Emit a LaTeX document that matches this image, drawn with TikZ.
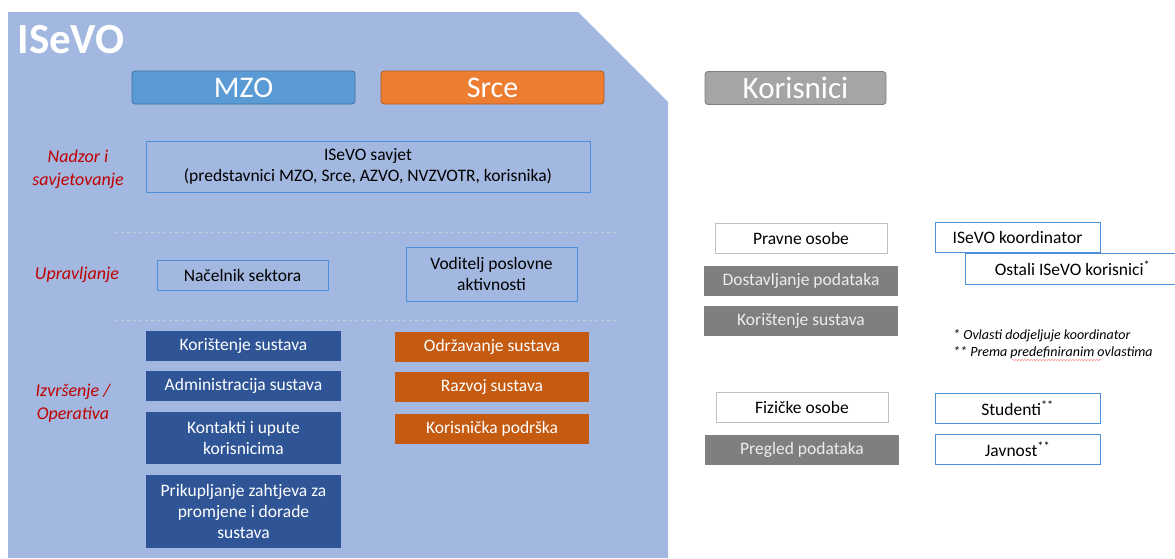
\documentclass[tikz,border=0pt]{standalone}
\usepackage{fontspec}
\setmainfont{Carlito}
\usepackage{tikz}
\usetikzlibrary{positioning, decorations.pathmorphing}
\definecolor{isevobg}{HTML}{A2B8E0}
\definecolor{mzoblue}{HTML}{5B9BD5}
\definecolor{mzoedge}{HTML}{41719C}
\definecolor{srceorange}{HTML}{ED7D31}
\definecolor{srceedge}{HTML}{AE5A21}
\definecolor{korgrey}{HTML}{A5A5A5}
\definecolor{koredge}{HTML}{7F7F7F}
\definecolor{mzodark}{HTML}{2F5597}
\definecolor{srcedark}{HTML}{C55A11}
\definecolor{usergrey}{HTML}{7F7F7F}
\definecolor{greytext}{HTML}{EDEDED}
\definecolor{boxline}{HTML}{4A8FD8}
\definecolor{lightline}{HTML}{BFBFBF}
\definecolor{tierred}{HTML}{C00000}
\definecolor{sepline}{HTML}{C4CCDC}
\tikzstyle{head} = [rectangle, rounded corners=3pt, minimum width=223pt, minimum height=33pt, text=white, line width=0.8pt, font=\fontsize{30}{32}\selectfont]
\tikzstyle{tier} = [text=tierred, align=center, font=\fontsize{18}{23}\selectfont\itshape]
\tikzstyle{linebox} = [rectangle, draw=boxline, line width=0.9pt, align=center, font=\fontsize{17.5}{21}\selectfont]
\tikzstyle{mzobox} = [rectangle, fill=mzodark, text=white, minimum width=195pt, minimum height=30pt, align=center, font=\fontsize{17.5}{21}\selectfont]
\tikzstyle{srcebox} = [rectangle, fill=srcedark, text=white, minimum width=194pt, minimum height=30pt, align=center, font=\fontsize{17.5}{21}\selectfont]
\tikzstyle{greybox} = [rectangle, fill=usergrey, text=greytext, minimum width=194pt, minimum height=30pt, font=\fontsize{17.5}{21}\selectfont]
\tikzstyle{personbox} = [rectangle, draw=lightline, fill=white, line width=1pt, minimum width=172pt, minimum height=30pt, font=\fontsize{17.5}{21}\selectfont]
\tikzstyle{userbox} = [rectangle, draw=boxline, fill=white, line width=0.9pt, minimum width=165pt, minimum height=30pt, font=\fontsize{17.5}{21}\selectfont]
\tikzstyle{note} = [anchor=west, inner sep=0pt, font=\fontsize{14}{16}\selectfont\itshape]
\tikzstyle{sep} = [draw=sepline, dashed, line width=0.7pt]

\begin{document}
\begin{tikzpicture}[x=1pt, y=-1pt, node distance=10pt]
	\useasboundingbox (0,0) rectangle (1175,558);
	% ISeVO area
	\fill [isevobg] (8,12) -- (578,12) -- (668,102) -- (668,558) -- (8,558) -- cycle;
	\node (isevo) [anchor=west, text=white, font=\fontsize{43}{43}\selectfont\bfseries] at (14,40) {ISeVO};

	% headers
	\node (mzo) [head, fill=mzoblue, draw=mzoedge] at (243.5,87.5) {MZO};
	\node (srce) [head, fill=srceorange, draw=srceedge] at (492.5,87.5) {Srce};
	\node (kor) [head, fill=korgrey, draw=koredge, minimum width=181pt, font=\fontsize{31}{32}\selectfont] at (795.5,88) {Korisnici};

	% nadzor
	\node (nadzor) [tier] at (78,169.5) {Nadzor i\\savjetovanje};
	\node (savjet) [linebox, minimum width=444pt, minimum height=51pt] at (368,166.5) {ISeVO savjet\\(predstavnici MZO, Srce, AZVO, NVZVOTR, korisnika)};
	\draw [sep] (115,232) -- (618,232);

	% upravljanje
	\node (uprav) [tier] at (77,275) {Upravljanje};
	\node (nacelnik) [linebox, minimum width=171pt, minimum height=30pt] at (242.5,275) {Načelnik sektora};
	\node (voditelj) [linebox, minimum width=171pt, minimum height=54pt] at (491.5,274) {Voditelj poslovne\\aktivnosti};
	\draw [sep] (115,320) -- (618,320);

	% izvrsenje
	\node (izvr) [tier] at (73,403) {Izvršenje /\\Operativa};
	\node (mzo1) [mzobox] at (243.5,346) {Korištenje sustava};
	\node (mzo2) [mzobox, below=of mzo1] {Administracija sustava};
	\node (mzo3) [mzobox, below=of mzo2, minimum height=52pt] {Kontakti i upute\\korisnicima};
	\node (mzo4) [mzobox, below=11pt of mzo3, minimum height=73pt] {Prikupljanje zahtjeva za\\promjene i dorade\\sustava};
	\node (srce1) [srcebox] at (492,347) {Održavanje sustava};
	\node (srce2) [srcebox, below=of srce1] {Razvoj sustava};
	\node (srce3) [srcebox, below=11pt of srce2] {Korisnička podrška};

	% korisnici
	\node (pravne) [personbox] at (801,238) {Pravne osobe};
	\node (dost) [greybox] at (801,281) {Dostavljanje podataka};
	\node (korsus) [greybox, below=of dost] {Korištenje sustava};
	\node (fizicke) [personbox] at (802,407) {Fizičke osobe};
	\node (pregled) [greybox] at (802,450) {Pregled podataka};

	\node (ostali) [userbox, minimum width=215pt, minimum height=31pt] at (1072.5,268.5) {Ostali ISeVO korisnici\textsuperscript{*}};
	\node (koord) [userbox] at (1017.5,237) {ISeVO koordinator};
	\node (studenti) [userbox] at (1017.5,408.5) {Studenti\textsuperscript{**}};
	\node (javnost) [userbox] at (1017.5,449) {Javnost\textsuperscript{**}};

	\node (note1) [note] at (953,336) {* Ovlasti dodjeljuje koordinator};
	\node (note2) [note] at (953,353) {** Prema predefiniranim ovlastima};
	\draw [draw=red!60, decorate, decoration={snake, amplitude=0.5pt, segment length=3pt}] (1012,360) -- (1102,360);
\end{tikzpicture}
\end{document}
